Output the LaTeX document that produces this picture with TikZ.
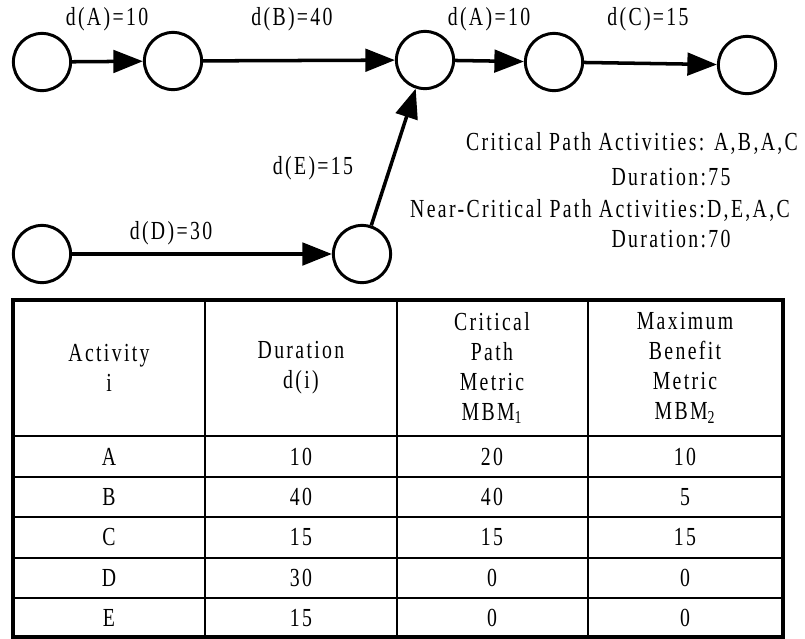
\documentclass[tikz,border=0pt]{standalone}
\usepackage{fontspec}
\setmainfont{Liberation Serif}[FakeStretch=0.76,LetterSpace=9]
\usetikzlibrary{arrows.meta}

\begin{document}
\begin{tikzpicture}[x=0.025cm, y=-0.025cm, thick, font=\fontsize{18.5}{21.3}\selectfont]
    \tikzstyle{node_event} = [draw=black, line width=2.1pt, circle, minimum size=1.43cm, inner sep=0pt]
    \tikzstyle{arrow_black} = [-{Triangle[length=21pt,width=16pt]}, black, line width=2.5pt]
    \tikzstyle{label_text} = [draw=none, inner sep=0pt]
    \tikzstyle{cell} = [draw=none, align=center, inner sep=0pt]

    \useasboundingbox (0,0) rectangle (805,639);

    % network
    \node[node_event] (n1) at (42,62) {};
    \node[node_event] (n2) at (173,61) {};
    \node[node_event] (n3) at (425,60) {};
    \node[node_event] (n4) at (554,62) {};
    \node[node_event] (n5) at (747,65) {};
    \node[node_event] (n6) at (42,254) {};
    \node[node_event] (n7) at (362,254) {};

    \draw[arrow_black] (n1) edge (n2);
    \draw[arrow_black] (n2) edge (n3);
    \draw[arrow_black] (n3) edge (n4);
    \draw[arrow_black] (n4) edge (n5);
    \draw[arrow_black] (n6) edge (n7);
    \draw[arrow_black] (n7) edge (n3);

    \node[label_text] (lA1) at (107,19) {d(A)=10};
    \node[label_text] (lB) at (292,19) {d(B)=40};
    \node[label_text] (lA2) at (489,19) {d(A)=10};
    \node[label_text] (lC) at (648,19) {d(C)=15};
    \node[label_text] (lE) at (313,168) {d(E)=15};
    \node[label_text] (lD) at (171,233) {d(D)=30};

    \node[label_text] (crit) at (632,143) {Critical Path Activities: A,B,A,C};
    \node[label_text] (critdur) at (671,177) {Duration:75};
    \node[label_text] (near) at (600,210) {Near-Critical Path Activities:D,E,A,C};
    \node[label_text] (neardur) at (671,239) {Duration:70};

    % ---------------------------------------

    \draw[line width=1.1pt] (205,300) -- (205,637);
    \draw[line width=1.1pt] (397,300) -- (397,637);
    \draw[line width=1.1pt] (588,300) -- (588,637);
    \draw[line width=1.1pt] (13,436) -- (783,436);
    \draw[line width=1.1pt] (13,477) -- (783,477);
    \draw[line width=1.6pt] (13,517) -- (783,517);
    \draw[line width=1.1pt] (13,558) -- (783,558);
    \draw[line width=1.1pt] (13,598) -- (783,598);
    \draw[line width=2.4pt] (13,300) rectangle (783,637);

    \node[cell] (h1) at (109,368) {Activity\\i};
    \node[cell] (h2) at (301,368) {Duration\\d(i)};
    \node[cell] (h3) at (492,368) {Critical\\Path\\Metric\\MBM\textsubscript{1}};
    \node[cell] (h4) at (685,368) {Maximum\\Benefit\\Metric\\MBM\textsubscript{2}};

    \node[cell] (a1) at (109,456.5) {A};
    \node[cell] (a2) at (301,456.5) {10};
    \node[cell] (a3) at (492,456.5) {20};
    \node[cell] (a4) at (685,456.5) {10};

    \node[cell] (b1) at (109,497) {B};
    \node[cell] (b2) at (301,497) {40};
    \node[cell] (b3) at (492,497) {40};
    \node[cell] (b4) at (685,497) {5};

    \node[cell] (c1) at (109,537.5) {C};
    \node[cell] (c2) at (301,537.5) {15};
    \node[cell] (c3) at (492,537.5) {15};
    \node[cell] (c4) at (685,537.5) {15};

    \node[cell] (d1) at (109,578) {D};
    \node[cell] (d2) at (301,578) {30};
    \node[cell] (d3) at (492,578) {0};
    \node[cell] (d4) at (685,578) {0};

    \node[cell] (e1) at (109,618) {E};
    \node[cell] (e2) at (301,618) {15};
    \node[cell] (e3) at (492,618) {0};
    \node[cell] (e4) at (685,618) {0};

\end{tikzpicture}
\end{document}
